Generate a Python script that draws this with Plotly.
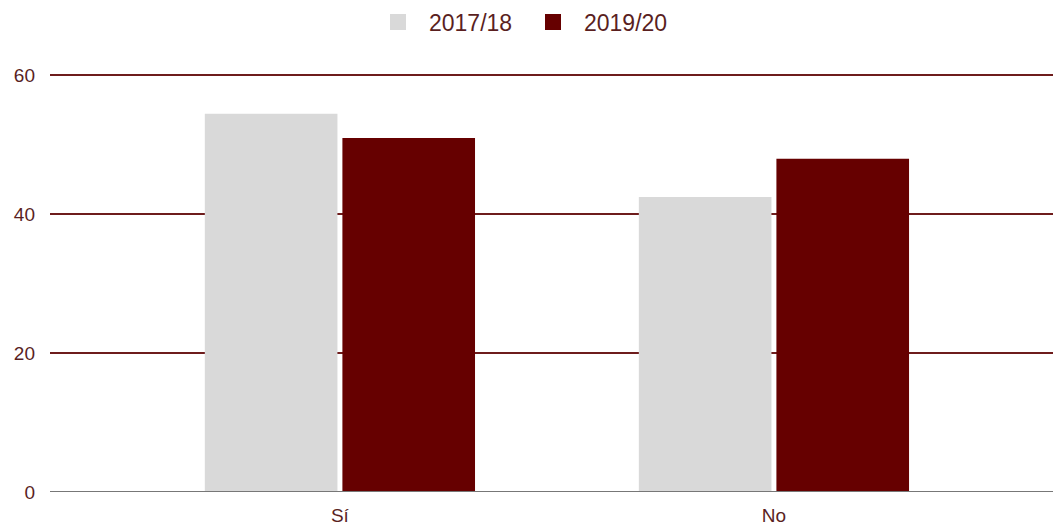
import plotly.graph_objects as go

categories = ["Sí", "No"]
series_names = ["2017/18", "2019/20"]
values_2017 = [54.5, 42.5]
values_2019 = [51.0, 48.0]
y_ticks = [0, 20, 40, 60]

colors = ["#d9d9d9", "#660000"]
text_col = "#5a1f1f"

fig = go.Figure()
for name, vals, col in zip(series_names, [values_2017, values_2019], colors):
    fig.add_trace(go.Bar(x=categories, y=vals, name=name, showlegend=False,
                         marker=dict(color=col, line=dict(width=0))))
# legend entries with larger square swatches
for name, col in zip(series_names, colors):
    fig.add_trace(go.Scatter(x=[None], y=[None], mode="markers", name=name,
                             marker=dict(symbol="square", size=19, color=col)))

y_top = 60.5
fig.update_layout(
    width=1053, height=527,
    margin=dict(l=50, r=0, t=71.5, b=35, autoexpand=False),
    plot_bgcolor="white", paper_bgcolor="white",
    font=dict(family="Liberation Sans, Arial, sans-serif", size=19, color=text_col),
    barmode="group", bargap=0.366, bargroupgap=0.036,
    showlegend=True,
    legend=dict(orientation="h", x=(367 - 50) / 1003, xanchor="left", y=1.0 + 50 / 420.5,
                yanchor="middle", font=dict(size=23, color=text_col), itemwidth=52,
                entrywidth=88, entrywidthmode="pixels", bgcolor="rgba(0,0,0,0)"),
    xaxis=dict(range=[-0.668, 1.643], showgrid=False, showline=False, zeroline=False,
               ticks="", ticklabelstandoff=10, tickfont=dict(size=19, color=text_col)),
    yaxis=dict(range=[0, y_top], tickvals=y_ticks, showgrid=True, gridcolor="#6e1c1c", gridwidth=1.5,
               zeroline=False, showline=False, ticks="", ticklabelstandoff=14,
               tickfont=dict(size=19, color=text_col)),
)
fig.add_hline(y=0, line=dict(color="#777777", width=2), layer="above")
fig.write_html("out.html", config={"displayModeBar": False})

with open("out.html", "r", encoding="utf-8") as f:
    html = f.read()
html = html.replace("<body>", '<body style="margin:0;padding:0;overflow:hidden">', 1)
with open("out.html", "w", encoding="utf-8") as f:
    f.write(html)
